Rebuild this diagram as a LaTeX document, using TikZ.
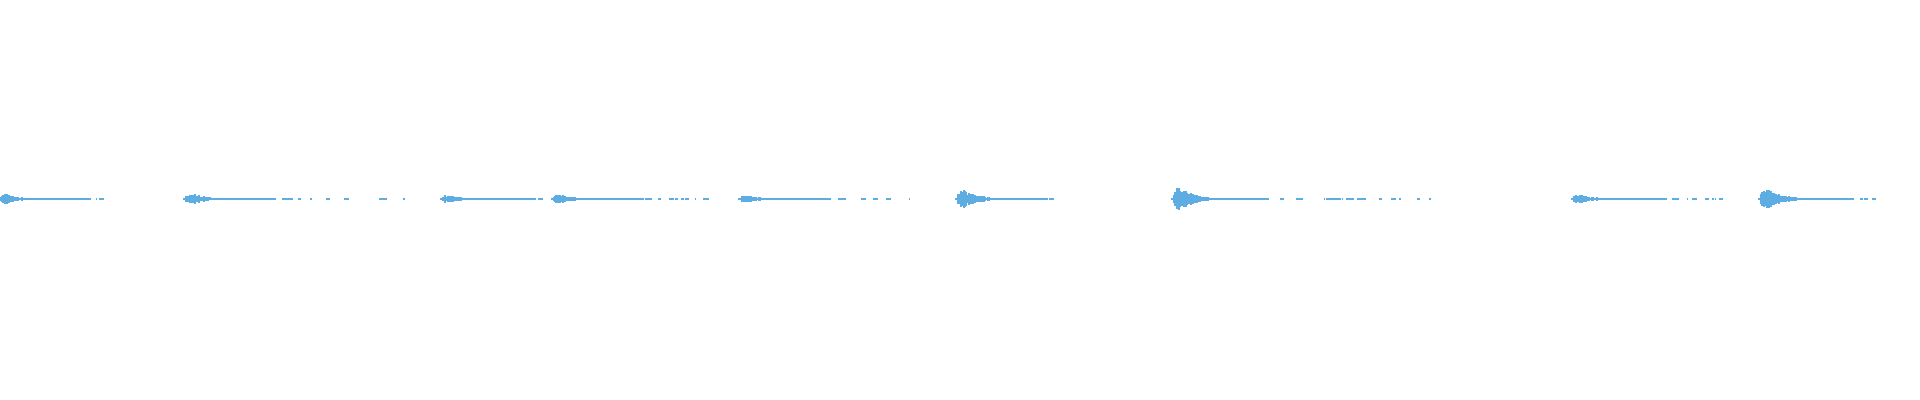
\documentclass[tikz,border=0pt]{standalone}
\definecolor{wave}{RGB}{93,173,226}
\newcommand{\wburst}[5]{% x, amp, flatlen, dash range end, ndash
  \foreach \i in {0,...,90}{%
    \pgfmathsetmacro{\a}{max(0.6,#2*(1-exp(-\i/2))*exp(-\i/16)*(0.5+0.5*rnd))}%
    \draw[wave,line width=0.55pt] ({#1+\i},{199-\a}) -- ({#1+\i},{199+\a});
  }
  \draw[wave,line width=0.55pt] (#1-2,199) -- ({#1+#3},199);
  \foreach \k in {1,...,#5}{%
    \pgfmathsetmacro{\p}{#1+#3+rnd*(#4-#1-#3)}%
    \pgfmathsetmacro{\l}{1+4*rnd}%
    \draw[wave,line width=0.55pt] (\p,199) -- ({\p+\l},199);
  }
}
\begin{document}
\begin{tikzpicture}[x=0.5pt,y=-0.5pt]
\useasboundingbox (0,0) rectangle (1920,400);
\pgfmathsetseed{7}
\wburst{0}{8}{75}{108}{6}
\wburst{185}{9}{75}{405}{14}
\wburst{442}{6}{40}{540}{12}
\wburst{553}{7}{85}{710}{12}
\wburst{740}{6}{60}{915}{14}
\wburst{957}{14}{60}{1055}{5}
\wburst{1173}{18}{85}{1430}{28}
\wburst{1573}{7}{70}{1720}{14}
\wburst{1760}{17}{60}{1872}{6}
\end{tikzpicture}
\end{document}
